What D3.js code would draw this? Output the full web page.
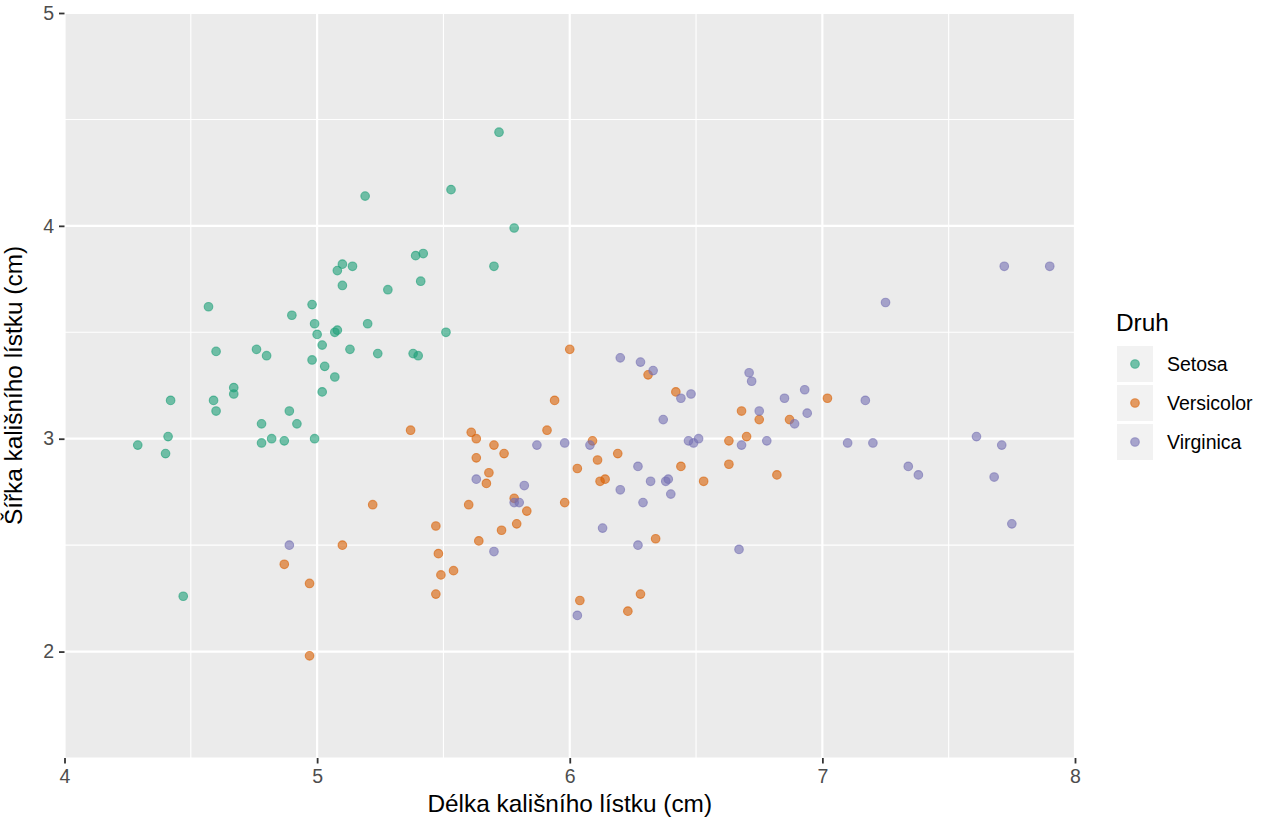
<!DOCTYPE html>
<html>
<head>
<meta charset="utf-8">
<script src="https://cdn.jsdelivr.net/npm/d3@7"></script>
<style>
  body { margin: 0; background: #fff; }
  svg { display: block; font-family: "Liberation Sans", Arial, sans-serif; }
</style>
</head>
<body>
<div id="chart"></div>
<script>
// iris, sepal length x sepal width, jittered
const species = ['Setosa', 'Versicolor', 'Virginica']
const colors = ['#1B9E77', '#D95F02', '#7570B3']

const setosaX = [5.72, 5.53, 5.19, 5.78, 5.39, 5.42, 5.70, 5.10, 5.14, 5.08,
    5.10, 5.41, 5.28, 4.57, 4.98, 4.90, 5.20, 4.99, 5.00, 5.07,
    5.08, 5.02, 5.13, 5.24, 5.38, 5.40, 4.60, 4.76, 4.80, 4.98,
    5.03, 5.07, 4.67, 4.67, 5.02, 4.42, 4.59, 4.60, 4.89, 4.92,
    4.78, 4.41, 4.82, 4.78, 4.87, 4.99, 4.29, 4.40, 5.51, 4.47]
const setosaY = [4.44, 4.17, 4.14, 3.99, 3.86, 3.87, 3.81, 3.82, 3.81, 3.79,
    3.72, 3.74, 3.70, 3.62, 3.63, 3.58, 3.54, 3.54, 3.49, 3.50,
    3.51, 3.44, 3.42, 3.40, 3.40, 3.39, 3.41, 3.42, 3.39, 3.37,
    3.34, 3.29, 3.24, 3.21, 3.22, 3.18, 3.18, 3.13, 3.13, 3.07,
    3.07, 3.01, 3.00, 2.98, 2.99, 3.00, 2.97, 2.93, 3.50, 2.26]

const versicolorX = [5.37, 5.61, 5.63, 5.70, 5.74, 5.63, 5.68, 5.67, 5.22, 5.60,
    5.78, 5.83, 5.47, 5.79, 5.73, 5.64, 5.10, 5.48, 5.54, 5.49,
    5.47, 4.87, 4.97, 4.97, 6.00, 5.94, 5.91, 6.31, 6.42, 6.09,
    6.11, 6.19, 6.03, 6.12, 6.14, 6.44, 6.53, 5.98, 6.63, 6.63,
    6.34, 6.04, 6.28, 6.23, 7.02, 6.68, 6.75, 6.87, 6.70, 6.82]
const versicolorY = [3.04, 3.03, 3.00, 2.97, 2.93, 2.91, 2.84, 2.79, 2.69, 2.69,
    2.72, 2.66, 2.59, 2.60, 2.57, 2.52, 2.50, 2.46, 2.38, 2.36,
    2.27, 2.41, 2.32, 1.98, 3.42, 3.18, 3.04, 3.30, 3.22, 2.99,
    2.90, 2.93, 2.86, 2.80, 2.81, 2.87, 2.80, 2.70, 2.99, 2.88,
    2.53, 2.24, 2.27, 2.19, 3.19, 3.13, 3.09, 3.09, 3.01, 2.83]

const virginicaX = [5.63, 5.82, 5.78, 5.80, 4.89, 5.70, 5.87, 6.20, 6.28, 6.33,
    6.44, 6.48, 6.37, 6.47, 6.49, 6.51, 5.98, 6.08, 6.27, 6.32,
    6.38, 6.39, 6.40, 6.20, 6.29, 6.13, 6.27, 6.67, 6.03, 6.71,
    6.72, 6.93, 6.85, 7.17, 6.75, 6.94, 6.89, 6.78, 6.68, 7.10,
    7.20, 7.34, 7.38, 7.25, 7.72, 7.90, 7.61, 7.71, 7.68, 7.75]
const virginicaY = [2.81, 2.78, 2.70, 2.70, 2.50, 2.47, 2.97, 3.38, 3.36, 3.32,
    3.19, 3.21, 3.09, 2.99, 2.98, 3.00, 2.98, 2.97, 2.87, 2.80,
    2.80, 2.81, 2.74, 2.76, 2.70, 2.58, 2.50, 2.48, 2.17, 3.31,
    3.27, 3.23, 3.19, 3.18, 3.13, 3.12, 3.07, 2.99, 2.97, 2.98,
    2.98, 2.87, 2.83, 3.64, 3.81, 3.81, 3.01, 2.97, 2.82, 2.60]

const xTicks = [4, 5, 6, 7, 8]
const yTicks = [2, 3, 4, 5]
const xMinor = [4.5, 5.5, 6.5, 7.5]
const yMinor = [1.5, 2.5, 3.5, 4.5]

const seriesX = [setosaX, versicolorX, virginicaX]
const seriesY = [setosaY, versicolorY, virginicaY]

const W = 1280, H = 832
const panel = {left: 64.5, right: 1075, top: 13, bottom: 758}

const svg = d3.select('#chart').append('svg')
    .attr('width', W)
    .attr('height', H)

const x = d3.scaleLinear().domain([4, 8]).range([panel.left, panel.right])
const y = d3.scaleLinear().domain([1.5, 5]).range([panel.bottom, panel.top])

svg.append('rect')
    .attr('x', panel.left).attr('y', panel.top)
    .attr('width', panel.right - panel.left)
    .attr('height', panel.bottom - panel.top)
    .attr('fill', '#EBEBEB')

// grid
const grid = svg.append('g')
grid.selectAll('.vmin').data(xMinor).enter().append('line')
    .attr('x1', d => x(d)).attr('x2', d => x(d))
    .attr('y1', panel.top).attr('y2', panel.bottom)
    .attr('stroke', '#fff').attr('stroke-width', 1.1)
grid.selectAll('.hmin').data(yMinor).enter().append('line')
    .attr('y1', d => y(d)).attr('y2', d => y(d))
    .attr('x1', panel.left).attr('x2', panel.right)
    .attr('stroke', '#fff').attr('stroke-width', 1.1)
grid.selectAll('.vmaj').data(xTicks).enter().append('line')
    .attr('x1', d => x(d)).attr('x2', d => x(d))
    .attr('y1', panel.top).attr('y2', panel.bottom)
    .attr('stroke', '#fff').attr('stroke-width', 2.2)
grid.selectAll('.hmaj').data(yTicks).enter().append('line')
    .attr('y1', d => y(d)).attr('y2', d => y(d))
    .attr('x1', panel.left).attr('x2', panel.right)
    .attr('stroke', '#fff').attr('stroke-width', 2.2)

// points
species.forEach((s, i) => {
    const pts = d3.zip(seriesX[i], seriesY[i])
    svg.append('g').selectAll('circle').data(pts).enter().append('circle')
        .attr('cx', d => x(d[0]))
        .attr('cy', d => y(d[1]))
        .attr('r', 4.3)
        .attr('fill', colors[i])
        .attr('fill-opacity', 0.6)
        .attr('stroke', colors[i])
        .attr('stroke-opacity', 0.6)
        .attr('stroke-width', 1.1)
})

// axes
const xAxis = svg.append('g')
    .attr('transform', `translate(0,${panel.bottom})`)
    .call(d3.axisBottom(x).tickValues(xTicks).tickSize(5.5).tickPadding(6).tickFormat(d3.format('d')))
const yAxis = svg.append('g')
    .attr('transform', `translate(${panel.left},0)`)
    .call(d3.axisLeft(y).tickValues(yTicks).tickSize(5.5).tickPadding(5).tickFormat(d3.format('d')))
;[xAxis, yAxis].forEach(a => {
    a.select('.domain').remove()
    a.selectAll('.tick line').attr('stroke', '#333333').attr('stroke-width', 1.8)
    a.selectAll('.tick text')
        .attr('fill', '#4D4D4D')
        .style('font-size', '19.5px')
        .style('font-family', '"Liberation Sans", Arial, sans-serif')
})

// titles
svg.append('text')
    .attr('x', (panel.left + panel.right) / 2)
    .attr('y', 812)
    .attr('text-anchor', 'middle')
    .style('font-size', '24.4px')
    .text('Délka kališního lístku (cm)')

svg.append('text')
    .attr('transform', `translate(22,${(panel.top + panel.bottom) / 2}) rotate(-90)`)
    .attr('text-anchor', 'middle')
    .style('font-size', '24.4px')
    .text('Šířka kališního lístku (cm)')

// legend
const legend = svg.append('g').attr('transform', 'translate(1116,0)')
legend.append('text')
    .attr('x', 0).attr('y', 331)
    .style('font-size', '24.4px')
    .text('Druh')
const keys = legend.selectAll('.key').data(species).enter().append('g')
    .attr('transform', (d, i) => `translate(0,${346 + i * 39})`)
keys.append('rect')
    .attr('x', 1).attr('y', 0)
    .attr('width', 36).attr('height', 36)
    .attr('fill', '#F2F2F2')
keys.append('circle')
    .attr('cx', 19).attr('cy', 18).attr('r', 4.3)
    .attr('fill', (d, i) => colors[i]).attr('fill-opacity', 0.6)
    .attr('stroke', (d, i) => colors[i]).attr('stroke-opacity', 0.6)
    .attr('stroke-width', 1.1)
keys.append('text')
    .attr('x', 51).attr('y', 18)
    .attr('dy', '0.35em')
    .style('font-size', '19.5px')
    .text(d => d)
</script>
</body>
</html>
